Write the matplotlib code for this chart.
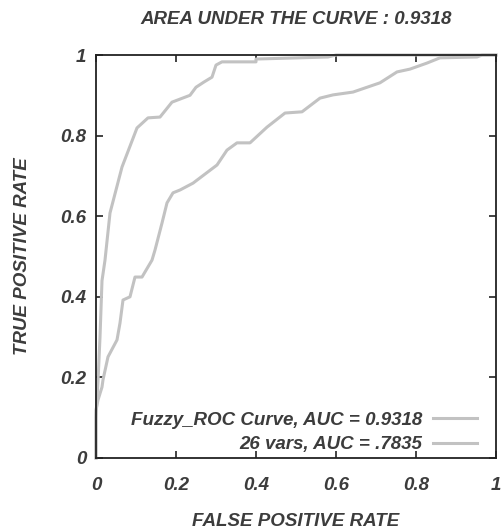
import matplotlib
matplotlib.use("Agg")
import matplotlib.pyplot as plt

# Fuzzy ROC curve
fuzzy_fpr = [0.0, 0.0, 0.002, 0.005, 0.01, 0.015, 0.0225, 0.035, 0.065, 0.1025, 0.13, 0.16,
             0.19, 0.235, 0.25, 0.27, 0.29, 0.30, 0.315, 0.40, 0.40, 0.58, 0.60, 1.0]
fuzzy_tpr = [0.0, 0.10, 0.14, 0.19, 0.30, 0.44, 0.491, 0.608, 0.722, 0.819, 0.844, 0.846,
             0.883, 0.90, 0.92, 0.933, 0.945, 0.975, 0.983, 0.983, 0.99, 0.995, 1.0, 1.0]

# 26 vars curve
vars_fpr = [0.0, 0.0, 0.005, 0.015, 0.0175, 0.03, 0.0525, 0.06, 0.0675, 0.085, 0.0975, 0.115,
            0.14, 0.1475, 0.165, 0.1775, 0.1925, 0.21, 0.2425, 0.3025, 0.3275, 0.3525, 0.385,
            0.4275, 0.4725, 0.515, 0.56, 0.5925, 0.6425, 0.71, 0.7525, 0.785, 0.8275, 0.86,
            0.9525, 0.965, 1.0]
vars_tpr = [0.0, 0.119, 0.144, 0.176, 0.194, 0.251, 0.293, 0.335, 0.392, 0.40, 0.449, 0.449,
            0.491, 0.516, 0.583, 0.633, 0.658, 0.665, 0.682, 0.727, 0.764, 0.782, 0.782,
            0.821, 0.856, 0.859, 0.893, 0.901, 0.908, 0.931, 0.958, 0.965, 0.98, 0.993,
            0.995, 1.0, 1.0]

labels = ["Fuzzy_ROC Curve, AUC = 0.9318", "26 vars, AUC = .7835"]
ticks = [0, 0.2, 0.4, 0.6, 0.8, 1]
tick_labels = ["0", "0.2", "0.4", "0.6", "0.8", "1"]
title = "AREA UNDER THE CURVE : 0.9318"

plt.rcParams['font.family'] = ['Liberation Sans', 'DejaVu Sans']
txt_color = "#3c3c3c"
fs = 13.5
font = dict(fontweight="bold", fontstyle="italic", color=txt_color)

fig = plt.figure(figsize=(5.02, 5.31), dpi=100)
ax = fig.add_axes([96/502, 73/531, 400/502, 403/531])

line_color = "#c2c2c2"
ax.plot(fuzzy_fpr, fuzzy_tpr, color=line_color, lw=2.2, label=labels[0], clip_on=False)
ax.plot(vars_fpr, vars_tpr, color=line_color, lw=2.2, label=labels[1], clip_on=False)

ax.set_xlim(0, 1)
ax.set_ylim(0, 1)
ax.set_xticks(ticks)
ax.set_yticks(ticks)
ax.set_xticklabels(tick_labels, fontsize=fs, **font)
ax.set_yticklabels(tick_labels, fontsize=fs, **font)
ax.tick_params(direction="in", length=5, width=1.2, top=True, right=True, color="#222222")
ax.tick_params(axis="x", pad=14)
ax.tick_params(axis="y", pad=7)
for s in ax.spines.values():
    s.set_linewidth(1.3)
    s.set_color("#222222")

ax.set_xlabel("FALSE POSITIVE RATE", fontsize=fs, labelpad=13, **font)
ax.set_ylabel("TRUE POSITIVE RATE", fontsize=fs, labelpad=21, **font)
fig.text(296/502, 1 - 19/531, title, ha="center", va="center", fontsize=fs, **font)

leg = ax.legend(loc="lower right", frameon=False, markerfirst=False, fontsize=fs,
                handlelength=2.35, handletextpad=0.55, borderaxespad=0.0, borderpad=0.0,
                labelspacing=0.4, bbox_to_anchor=(0.9525, 0.012))
for t in leg.get_texts():
    t.set_fontweight("bold")
    t.set_fontstyle("italic")
    t.set_color(txt_color)
    t.set_ha("right")
leg._legend_box.align = "right"

fig.savefig("out.png", dpi=100)
